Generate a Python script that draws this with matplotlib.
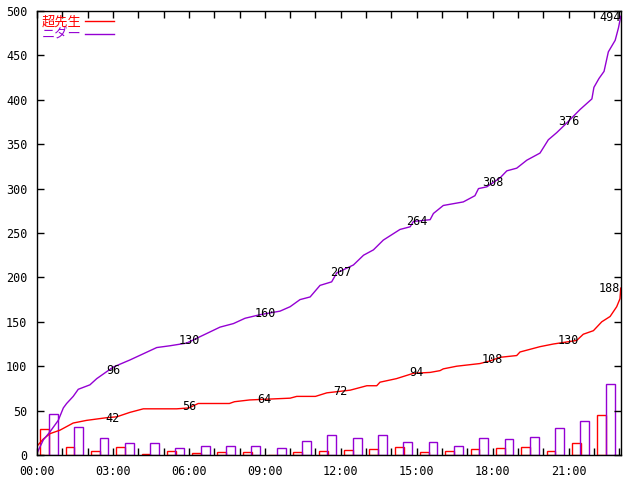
import matplotlib
matplotlib.use('Agg')
import matplotlib.pyplot as plt

# Hourly post counts (hour 0 .. 22)
hours = list(range(23))
sensei_bars = [29, 9, 4, 9, 1, 4, 2, 3, 3, 0, 3, 5, 6, 7, 9, 3, 4, 7, 8, 9, 5, 13, 45]
nida_bars = [46, 31, 19, 13, 13, 8, 10, 10, 10, 8, 16, 23, 19, 23, 15, 15, 10, 19, 18, 20, 30, 38, 80]

# Cumulative curves (time in hours, count)
sensei_t = [0, 0.25, 0.51, 0.91, 1.43, 1.96, 2.75, 3.15, 3.67, 4.2, 5.52, 6.0, 6.37, 7.6, 7.8,
            8.4, 10.0, 10.26, 11.0, 11.45, 12.37, 13.03, 13.42, 13.55, 14.2, 14.87, 15.53,
            15.92, 16.05, 16.58, 17.5, 17.9, 18.29, 18.95, 19.08, 19.87, 20.4, 21.32, 21.58,
            21.98, 22.31, 22.64, 22.9, 23.03, 23.06]
sensei_v = [10, 18, 24, 28, 36, 39, 42, 43, 48, 52, 52, 53, 58, 58, 60, 62, 64, 66, 66, 70,
            73, 78, 78, 82, 86, 92, 93, 95, 97, 100, 103, 106, 110, 112, 116, 122, 125, 129,
            136, 140, 150, 156, 167, 176, 188]

nida_t = [0, 0.25, 0.51, 0.84, 1.04, 1.17, 1.43, 1.63, 2.09, 2.36, 3.01, 3.67, 4.2, 4.73,
          5.25, 5.91, 6.57, 7.23, 7.76, 8.22, 8.81, 9.6, 10.0, 10.39, 10.79, 11.18, 11.64,
          11.84, 12.5, 12.9, 13.29, 13.68, 14.34, 14.74, 14.87, 15.53, 15.66, 16.05, 16.84,
          17.3, 17.44, 17.77, 18.29, 18.56, 18.95, 19.35, 19.87, 20.2, 20.53, 20.93, 21.45,
          21.92, 22.0, 22.2, 22.4, 22.57, 22.84, 22.97, 23.06]
nida_v = [2, 17, 26, 39, 53, 58, 66, 74, 79, 86, 99, 107, 114, 121, 123, 126, 135, 144, 148,
          154, 158, 162, 167, 175, 178, 191, 195, 205, 214, 225, 231, 242, 254, 257, 263, 265,
          272, 281, 285, 292, 300, 302, 312, 320, 323, 332, 340, 355, 363, 374, 389, 401, 414,
          424, 432, 454, 467, 481, 494]

# Cumulative labels every 3 hours, plus the total at the end
label_t = [3, 6, 9, 12, 15, 18, 21]
sensei_labels = [42, 56, 64, 72, 94, 108, 130]
nida_labels = [96, 130, 160, 207, 264, 308, 376]
sensei_total = 188
nida_total = 494
t_end = 23.07

red = '#ff0000'
purple = '#9400d3'
mono = 'DejaVu Sans Mono'

fig = plt.figure(figsize=(6.4, 4.8), dpi=100)
ax = fig.add_axes([37 / 640, 1 - 455 / 480, 584 / 640, 444 / 480])

# Bars (unfilled boxes)
bw = 0.35
ax.bar([h + 0.13 for h in hours], sensei_bars, width=bw, align='edge',
       facecolor='none', edgecolor=red, linewidth=1.0)
ax.bar([h + 0.47 for h in hours], nida_bars, width=bw, align='edge',
       facecolor='none', edgecolor=purple, linewidth=1.0)

# Cumulative lines
ax.plot(sensei_t, sensei_v, color=red, linewidth=1.0, label='超先生')
ax.plot(nida_t, nida_v, color=purple, linewidth=1.0, label='ニダー')

# Labels
for t, v in zip(label_t, sensei_labels):
    ax.text(t, v - 1, str(v), ha='center', va='center', fontsize=8.5, family=mono)
for t, v in zip(label_t, nida_labels):
    ax.text(t, v - 1, str(v), ha='center', va='center', fontsize=8.5, family=mono)
ax.text(t_end - 0.02, sensei_total - 1, str(sensei_total), ha='right', va='center',
        fontsize=8.5, family=mono)
ax.text(t_end - 0.02, nida_total - 1, str(nida_total), ha='right', va='center',
        fontsize=8.5, family=mono)

ax.set_xlim(0, t_end)
ax.set_ylim(0, 500)

ax.set_xticks(range(0, 24))
ax.set_xticklabels(['%02d:00' % h if h % 3 == 0 else '' for h in range(0, 24)])
ax.set_yticks(range(0, 501, 50))
ax.tick_params(direction='in', length=5, width=1, top=True, right=True, pad=7,
               labelsize=8.5)
for lab in ax.get_xticklabels() + ax.get_yticklabels():
    lab.set_family(mono)
for s in ax.spines.values():
    s.set_linewidth(1.0)

leg = ax.legend(loc='upper left', markerfirst=False, frameon=False,
                prop={'family': ['Noto Sans CJK JP', 'DejaVu Sans'], 'size': 9.5},
                labelcolor='linecolor', handlelength=2.2, handletextpad=0.3,
                labelspacing=0.0, borderpad=0.05, borderaxespad=0.3)

plt.savefig('out.png', dpi=100)
plt.close()
